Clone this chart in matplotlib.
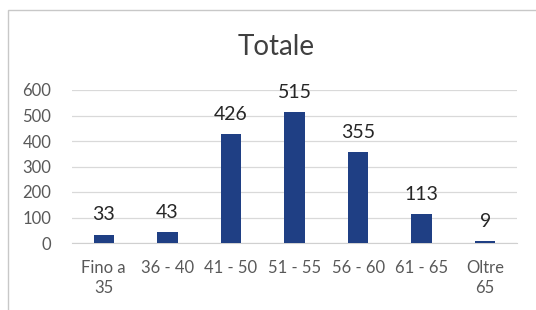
import matplotlib.pyplot as plt
from matplotlib.patches import Rectangle

categories = ["Fino a\n35", "36 - 40", "41 - 50", "51 - 55", "56 - 60", "61 - 65", "Oltre\n65"]
values = [33, 43, 426, 515, 355, 113, 9]
yticks = [0, 100, 200, 300, 400, 500, 600]

plt.rcParams['font.family'] = ['Lato', 'DejaVu Sans']

fig = plt.figure(figsize=(5.36, 3.10), dpi=100)
fig.patch.set_facecolor('white')

# chart frame (like an Excel chart border)
fig.patches.append(Rectangle((8 / 536, -0.05), 1.0, (310 - 10) / 310 + 0.05,
                             transform=fig.transFigure, fill=False,
                             edgecolor='#c8c8c8', linewidth=1.0))

ax = fig.add_axes([72 / 536, 67 / 310, 445 / 536, 153 / 310])
x = list(range(len(categories)))
bars = ax.bar(x, values, width=0.32, color='#1f3f84', zorder=3)

for xi, v in zip(x, values):
    ax.annotate(str(v), (xi, v), xytext=(0, 8), textcoords='offset points',
                ha='center', va='bottom', fontsize=14, color='#262626')

ax.set_xlim(-0.5, len(categories) - 0.5)
ax.set_ylim(0, 600)
ax.set_yticks(yticks)
ax.set_xticks(x)
ax.set_xticklabels(categories, fontsize=12, color='#595959', linespacing=1.35)
ax.tick_params(axis='y', labelsize=12, labelcolor='#595959', length=0, pad=15)
ax.tick_params(axis='x', length=0, pad=12)
ax.grid(axis='y', color='#d9d9d9', linewidth=0.9, zorder=0)
for s in ['top', 'right', 'left']:
    ax.spines[s].set_visible(False)
ax.spines['bottom'].set_color('#d0d0d0')

fig.text(276 / 536, 1 - 47 / 310, "Totale", ha='center', va='center', fontsize=20, color='#404040')

fig.savefig('out.png', dpi=100)
